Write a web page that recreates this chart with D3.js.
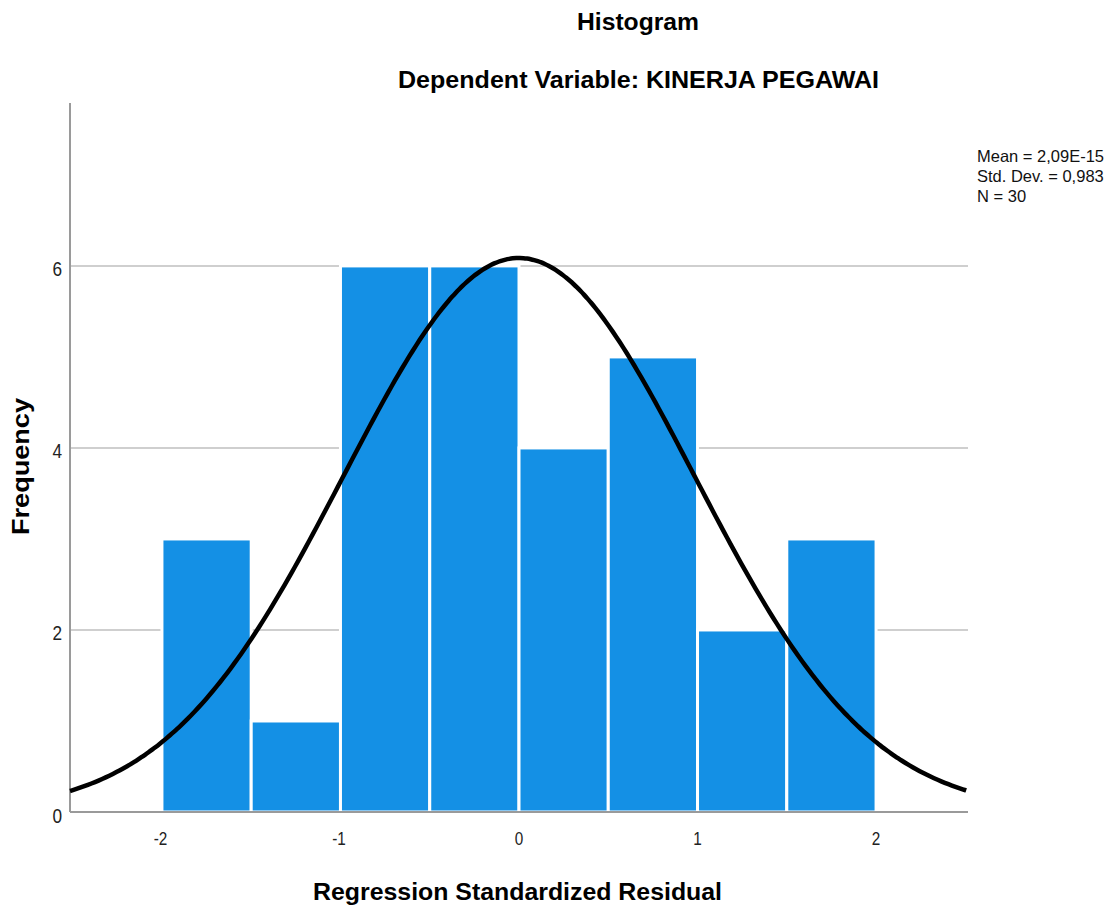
<!DOCTYPE html>
<html>
<head>
  <meta charset="utf-8">
  <style>
    body { margin: 0; background: #fff; }
    text { font-family: "Liberation Sans", Arial, sans-serif; }
  </style>
</head>
<body>
<script src="https://d3js.org/d3.v7.min.js"></script>
<script>

// histogram bins (lower edge, upper edge) and counts
var binStart = [-2, -1.5, -1, -0.5, 0, 0.5, 1, 1.5];
var binEnd   = [-1.5, -1, -0.5, 0, 0.5, 1, 1.5, 2];
var counts   = [3, 1, 6, 6, 4, 5, 2, 3];

var xTicks = [-2, -1, 0, 1, 2];
var yTicks = [0, 2, 4, 6];

// summary stats shown in the legend, also used for the normal curve
var mean = 2.09e-15, stdDev = 0.983, n = 30, binWidth = 0.5;
var statLines = ["Mean = 2,09E-15", "Std. Dev. = 0,983", "N = 30"];

var W = 1119, H = 912;
var svg = d3.select("body").append("svg")
            .attr("width", W)
            .attr("height", H);

var x = d3.scaleLinear().domain([-2.515, 2.515]).range([70, 968]);
var y = d3.scaleLinear().domain([0, 7.79]).range([812, 103]);

// gridlines
svg.selectAll(".grid")
   .data(yTicks.filter(function(d) { return d > 0; }))
   .enter().append("line")
   .attr("x1", x.range()[0]).attr("x2", x.range()[1])
   .attr("y1", function(d) { return y(d); })
   .attr("y2", function(d) { return y(d); })
   .attr("stroke", "#cfcfcf")
   .attr("stroke-width", 2);

// bars
svg.selectAll(".bar")
   .data(counts)
   .enter().append("rect")
   .attr("x", function(d, i) { return x(binStart[i]); })
   .attr("width", function(d, i) { return x(binEnd[i]) - x(binStart[i]); })
   .attr("y", function(d) { return y(d); })
   .attr("height", function(d) { return y(0) - y(d); })
   .attr("fill", "#1490e5")
   .attr("stroke", "#fff")
   .attr("stroke-width", 3);

// axes lines
svg.append("line")
   .attr("x1", x.range()[0]).attr("x2", x.range()[0])
   .attr("y1", y.range()[1]).attr("y2", y(0))
   .attr("stroke", "#9a9a9a").attr("stroke-width", 2);
svg.append("line")
   .attr("x1", x.range()[0]).attr("x2", x.range()[1])
   .attr("y1", y(0)).attr("y2", y(0))
   .attr("stroke", "#9a9a9a").attr("stroke-width", 2);

// normal curve
var pts = d3.range(x.domain()[0], x.domain()[1] + 0.001, 0.02);
var line = d3.line()
             .x(function(d) { return x(d); })
             .y(function(d) {
               var z = (d - mean) / stdDev;
               return y(n * binWidth * Math.exp(-0.5 * z * z) / (stdDev * Math.sqrt(2 * Math.PI)));
             })
             .curve(d3.curveBasis);
svg.append("path")
   .attr("d", line(pts))
   .attr("fill", "none")
   .attr("stroke", "#000")
   .attr("stroke-width", 4.5);

// tick labels (narrow, like the original)
svg.selectAll(".xt")
   .data(xTicks)
   .enter().append("text")
   .attr("transform", function(d) {
     return "translate(" + (x(d) - (d < 0 ? 1.5 : 0)) + ",845) scale(0.85,1)";
   })
   .attr("text-anchor", "middle")
   .attr("font-size", 18)
   .attr("fill", "#222")
   .text(function(d) { return d; });

svg.selectAll(".yt")
   .data(yTicks)
   .enter().append("text")
   .attr("transform", function(d) {
     return "translate(62," + (y(d) + 10.5) + ") scale(0.82,1)";
   })
   .attr("text-anchor", "end")
   .attr("font-size", 21)
   .attr("fill", "#222")
   .text(function(d) { return d; });

// titles
svg.append("text")
   .attr("x", 577).attr("y", 30)
   .attr("textLength", 122).attr("lengthAdjust", "spacingAndGlyphs")
   .attr("font-size", 23).attr("font-weight", "bold")
   .text("Histogram");
svg.append("text")
   .attr("x", 398).attr("y", 88)
   .attr("textLength", 481).attr("lengthAdjust", "spacingAndGlyphs")
   .attr("font-size", 23).attr("font-weight", "bold")
   .text("Dependent Variable: KINERJA PEGAWAI");

svg.append("text")
   .attr("x", 313).attr("y", 900)
   .attr("textLength", 409).attr("lengthAdjust", "spacingAndGlyphs")
   .attr("font-size", 23).attr("font-weight", "bold")
   .text("Regression Standardized Residual");

svg.append("text")
   .attr("transform", "translate(29,535) rotate(-90)")
   .attr("textLength", 137).attr("lengthAdjust", "spacingAndGlyphs")
   .attr("font-size", 23).attr("font-weight", "bold")
   .text("Frequency");

// stats legend
svg.selectAll(".stat")
   .data(statLines)
   .enter().append("text")
   .attr("x", 977)
   .attr("y", function(d, i) { return 162 + i * 20; })
   .attr("font-size", 16.5)
   .attr("fill", "#111")
   .text(function(d) { return d; });

</script>
</body>
</html>
